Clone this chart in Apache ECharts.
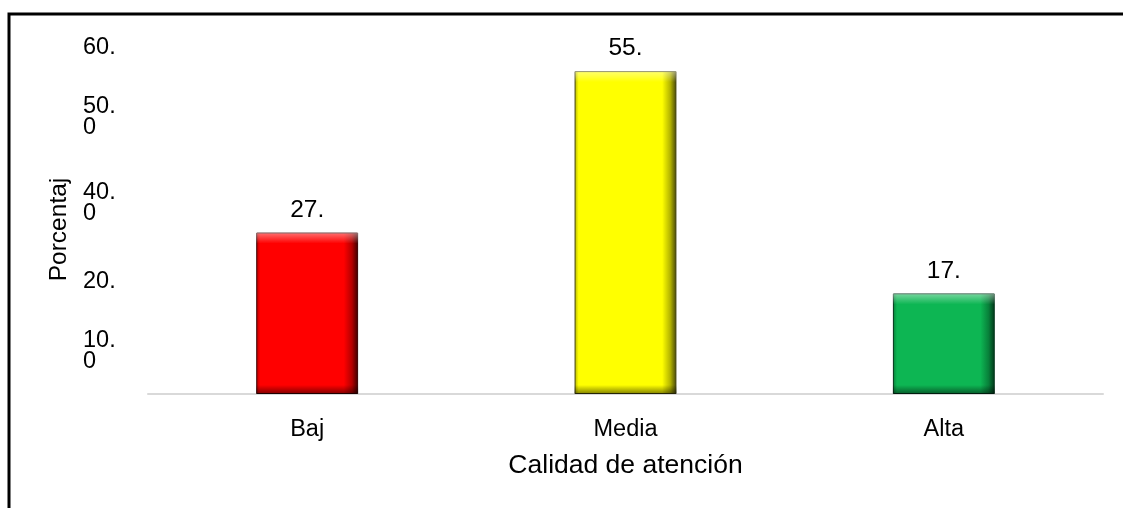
<!DOCTYPE html>
<html>
<head>
<meta charset="utf-8">
<script src="https://cdn.jsdelivr.net/npm/echarts@6/dist/echarts.min.js"></script>
<style>
html,body{margin:0;padding:0;background:#fff;}
#chart{width:1123px;height:508px;}
</style>
</head>
<body>
<div id="chart"></div>
<script>
// ---- data ----
var categories = ['Baj', 'Media', 'Alta'];
var values = [27.6, 55.2, 17.2];
var barColors = ['#ff0000', '#ffff00', '#0db653'];
var barMidColors = ['#b30000', '#b3b300', '#08803a'];
var barEdgeColors = ['#3a0000', '#45450a', '#02361a'];
var yTickValues = [0, 10, 20, 30, 40, 50, 60];
var yTickLabels = ['', '10.\n0', '20.', '', '40.\n0', '50.\n0', '60.'];
var xAxisTitle = 'Calidad de atención';
var yAxisTitle = 'Porcentaj';

var FONT = 'Liberation Sans, Arial, sans-serif';

// spacer (layout only) placed before each tick label so that its first line
// sits slightly below the tick, like the reference
function tickLabel(v) {
  var i = yTickValues.indexOf(v);
  if (i < 0) return '';
  var t = yTickLabels[i];
  if (!t) return '';
  var parts = t.split('\n');
  var sp = parts.length > 1 ? (v === 40 ? 's84' : 's30') : 's10';
  return '{' + sp + '| }\n' + parts.map(function (p) { return '{t|' + p + '}'; }).join('\n');
}

var mainData = values.map(function (v, i) {
  return {
    value: v,
    itemStyle: {
      color: new echarts.graphic.LinearGradient(0, 0, 1, 0, [
        { offset: 0, color: barMidColors[i] },
        { offset: 0.04, color: barColors[i] },
        { offset: 0.86, color: barColors[i] },
        { offset: 0.94, color: barMidColors[i] },
        { offset: 1, color: barEdgeColors[i] }
      ]),
      borderColor: barEdgeColors[i],
      borderWidth: 1
    }
  };
});

var overlayData = values.map(function (v) {
  var px = v * 5.85;
  var top = Math.min(0.25, 11 / px);
  var bot = Math.min(0.25, 9 / px);
  return {
    value: v,
    itemStyle: {
      color: new echarts.graphic.LinearGradient(0, 0, 0, 1, [
        { offset: 0, color: 'rgba(255,255,255,0.45)' },
        { offset: top, color: 'rgba(255,255,255,0.0)' },
        { offset: 1 - bot, color: 'rgba(0,0,0,0.0)' },
        { offset: 1, color: 'rgba(0,0,0,0.5)' }
      ])
    }
  };
});

var tStyle = { color: '#000', fontSize: 23.5, fontFamily: FONT, lineHeight: 21 };

var chart = echarts.init(document.getElementById('chart'));
chart.setOption({
  backgroundColor: '#ffffff',
  animation: false,
  graphic: [{
    type: 'rect',
    shape: { x: 9, y: 14, width: 1200, height: 600 },
    style: { fill: 'none', stroke: '#000', lineWidth: 3 },
    silent: true
  }],
  grid: { left: 148, right: 20, top: 43, bottom: 114 },
  xAxis: {
    type: 'category',
    data: categories,
    axisLine: { lineStyle: { color: '#d9d9d9', width: 2 } },
    axisTick: { show: false },
    axisLabel: { color: '#000', fontSize: 23.5, fontFamily: FONT, margin: 24 },
    name: xAxisTitle,
    nameLocation: 'middle',
    nameGap: 58,
    nameTextStyle: { color: '#000', fontSize: 26.5, fontFamily: FONT }
  },
  yAxis: {
    type: 'value',
    min: 0,
    max: 60,
    interval: 10,
    splitLine: { show: false },
    axisLine: { show: false },
    axisTick: { show: false },
    axisLabel: {
      color: '#000', fontSize: 23.5, fontFamily: FONT,
      align: 'left', margin: 65,
      formatter: tickLabel,
      rich: {
        t: tStyle,
        s10: { fontSize: 4, lineHeight: 10, height: 10 },
        s30: { fontSize: 4, lineHeight: 32, height: 32 },
        s84: { fontSize: 4, lineHeight: 86, height: 86 }
      }
    },
    name: yAxisTitle,
    nameLocation: 'middle',
    nameGap: 66,
    nameTextStyle: { color: '#000', fontSize: 24.5, fontFamily: FONT, padding: [0, 22, 0, 0] }
  },
  series: [{
    type: 'bar',
    data: mainData,
    barWidth: '32%',
    label: {
      show: true,
      position: 'top',
      distance: 10,
      color: '#000',
      fontSize: 24.5,
      fontFamily: FONT,
      formatter: function (p) { return Math.floor(p.value) + '.'; }
    }
  }, {
    type: 'bar',
    data: overlayData,
    barWidth: '32%',
    barGap: '-100%',
    silent: true
  }]
});
</script>
</body>
</html>
